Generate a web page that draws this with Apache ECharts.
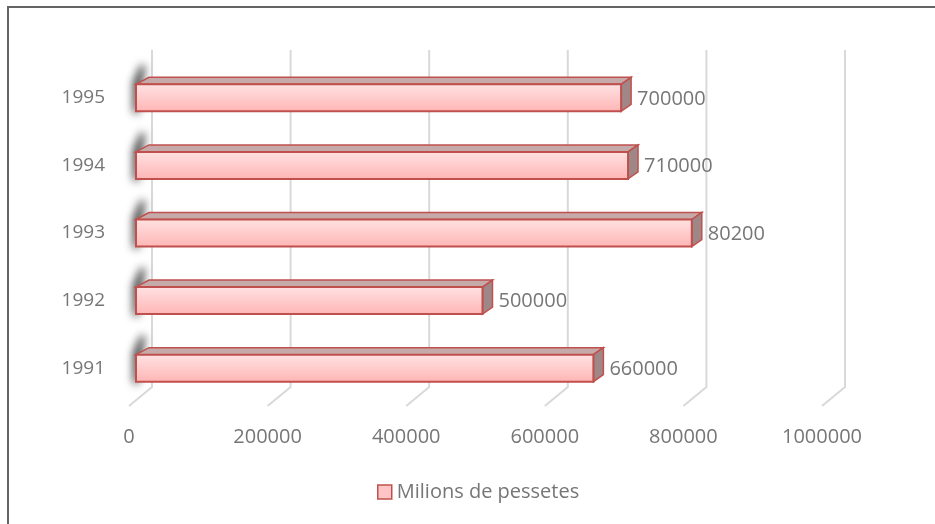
<!DOCTYPE html>
<html>
<head>
<meta charset="utf-8">
<script src="https://cdn.jsdelivr.net/npm/echarts@6/dist/echarts.min.js"></script>
<style>
  html, body { margin: 0; padding: 0; background: #fff; }
  #chart { width: 935px; height: 524px; }
</style>
</head>
<body>
<div id="chart"></div>
<script>
const years = ['1991', '1992', '1993', '1994', '1995'];
const values = [660000, 500000, 802000, 710000, 700000];
const valueLabels = ['660000', '500000', '80200', '710000', '700000'];
const xTicks = [0, 200000, 400000, 600000, 800000, 1000000];
const seriesName = 'Milions de pessetes';

const textColor = '#767676';
const edgeColor = '#C0504D';
const fontFamily = 'Open Sans';

var myChart = echarts.init(document.getElementById('chart'), null, { renderer: 'canvas' });

// back wall lines + floor diagonals (fake 3D grid)
function renderGrid(params, api) {
    const cs = params.coordSys;
    const x = api.coord([api.value(0), 0])[0];
    const bottom = cs.y + cs.height;
    return {
        type: 'polyline',
        shape: { points: [[x + 16, cs.y - 14], [x + 16, bottom - 15], [x - 7, bottom + 4]] },
        style: { stroke: '#D9D9D9', lineWidth: 2, fill: null },
        silent: true
    };
}

// 3D-ish bar: front face, top face, side face, plus soft shadow at the left end
function renderBar(params, api) {
    const idx = api.value(1);
    const start = api.coord([0, idx]);
    const end = api.coord([api.value(0), idx]);
    const x0 = start[0], x1 = end[0], yc = start[1];
    const h = 27, dx = 10, dy = 7;
    const yT = yc - h / 2, yB = yc + h / 2;
    const off = 2000; // draw the shape off screen, only its blurred shadow shows
    return {
        type: 'group',
        children: [
            {
                type: 'polygon',
                shape: { points: [[x0 - 3 - off, yT - 2], [x0 + 5 - off, yT - 20], [x0 + 9 - off, yT - 18], [x0 + 2 - off, yB + 3], [x0 - 3 - off, yB + 1]] },
                style: { fill: '#000', shadowBlur: 9, shadowColor: 'rgba(0,0,0,0.75)', shadowOffsetX: off }
            },
            {
                type: 'polygon',
                shape: { points: [[x0, yT], [x0 + 13, yT - dy], [x1 + dx, yT - dy], [x1, yT]] },
                style: { fill: '#C6AAAA', stroke: edgeColor, lineWidth: 1.5 }
            },
            {
                type: 'polygon',
                shape: { points: [[x1, yT], [x1 + dx, yT - dy], [x1 + dx, yB - dy], [x1, yB]] },
                style: { fill: '#A08787', stroke: edgeColor, lineWidth: 1.5 }
            },
            {
                type: 'rect',
                shape: { x: x0, y: yT, width: x1 - x0, height: h },
                style: {
                    fill: new echarts.graphic.LinearGradient(0, 0, 0, 1, [
                        { offset: 0, color: '#FFE3E3' },
                        { offset: 1, color: '#FFB4B4' }
                    ]),
                    stroke: edgeColor,
                    lineWidth: 2
                }
            },
            {
                type: 'text',
                style: {
                    x: x1 + 16, y: yc + 1,
                    text: valueLabels[params.dataIndex],
                    fill: textColor, fontSize: 20, fontFamily: fontFamily,
                    verticalAlign: 'middle', align: 'left'
                }
            }
        ]
    };
}

const option = {
    animation: false,
    backgroundColor: '#fff',
    graphic: [{
        type: 'rect',
        shape: { x: 8, y: 7, width: 1000, height: 1000 },
        style: { fill: null, stroke: '#646464', lineWidth: 2 },
        silent: true
    }],
    grid: { left: 136, top: 64, width: 693, height: 338 },
    legend: {
        left: 377,
        top: 482,
        padding: 0,
        icon: 'rect',
        itemWidth: 14,
        itemHeight: 14,
        itemGap: 5,
        textStyle: { color: textColor, fontSize: 20, fontFamily: fontFamily },
        data: [{
            name: seriesName,
            itemStyle: { color: '#FFC4C4', borderColor: edgeColor, borderWidth: 1.5 }
        }]
    },
    xAxis: {
        type: 'value',
        min: 0,
        max: 1000000,
        interval: 200000,
        axisLine: { show: false },
        axisTick: { show: false },
        splitLine: { show: false },
        axisLabel: {
            color: textColor, fontSize: 20, fontFamily: fontFamily,
            margin: 25, padding: [0, 14, 0, 0],
            formatter: v => String(v)
        }
    },
    yAxis: {
        type: 'category',
        data: years,
        axisLine: { show: false },
        axisTick: { show: false },
        splitLine: { show: false },
        axisLabel: { color: textColor, fontSize: 19, fontFamily: fontFamily, margin: 31 }
    },
    series: [
        {
            type: 'custom',
            name: 'grid',
            renderItem: renderGrid,
            data: xTicks.map(v => [v, 0]),
            encode: { x: 0, y: 1 },
            clip: false,
            silent: true,
            z: 1
        },
        {
            type: 'custom',
            name: seriesName,
            renderItem: renderBar,
            data: values.map((v, i) => [v, i]),
            encode: { x: 0, y: 1 },
            itemStyle: { color: '#FFC4C4' },
            clip: false,
            z: 2
        }
    ]
};

myChart.setOption(option);
window.addEventListener('resize', myChart.resize);
</script>
</body>
</html>
